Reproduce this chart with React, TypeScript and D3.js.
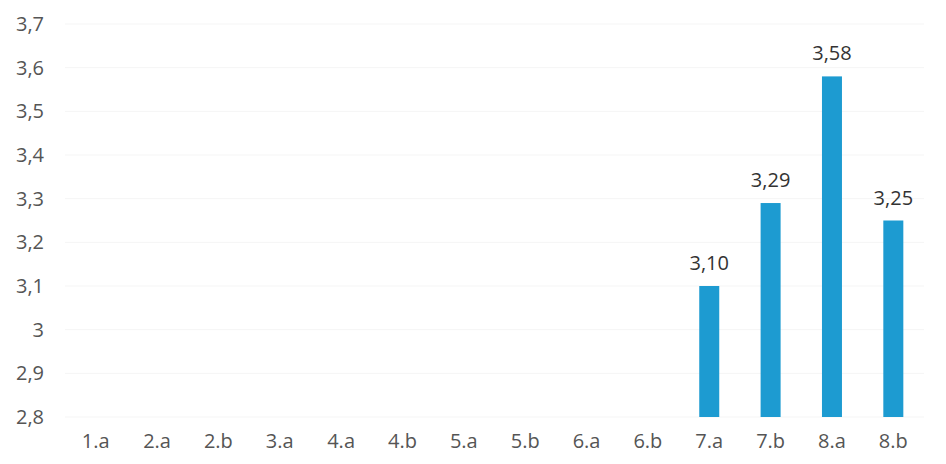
import React from "react";
import * as d3 from "d3";

const categories = ["1.a", "2.a", "2.b", "3.a", "4.a", "4.b", "5.a", "5.b", "6.a", "6.b", "7.a", "7.b", "8.a", "8.b"];
const values: (number | null)[] = [null, null, null, null, null, null, null, null, null, null, 3.10, 3.29, 3.58, 3.25];
const yTicks = [2.8, 2.9, 3.0, 3.1, 3.2, 3.3, 3.4, 3.5, 3.6, 3.7];

const W = 946;
const H = 464;
const FONT = "'Open Sans', 'Noto Sans', sans-serif";

export default function App() {
  const x = d3.scaleBand<string>().domain(categories).range([65, 924]).paddingInner(0.674).paddingOuter(0.337);
  const y = d3.scaleLinear().domain([2.8, 3.7]).range([417, 24]);
  const fmtTick = (v: number) => (Math.round(v * 10) / 10).toString().replace(".", ",");
  const fmtVal = (v: number) => v.toFixed(2).replace(".", ",");

  return (
    <svg width={W} height={H} style={{ position: "absolute", left: 0, top: 0, background: "#fff" }}>
      <rect x={0} y={0} width={W} height={H} fill="#fff" />
      {yTicks.map((t) => (
        <g key={t}>
          <line x1={65} x2={924} y1={y(t)} y2={y(t)} stroke="#f5f5f5" strokeWidth={1} />
          <text x={44} y={y(t)} dy="0.35em" textAnchor="end" fontFamily={FONT} fontSize={20} fill="#555">
            {fmtTick(t)}
          </text>
        </g>
      ))}
      {categories.map((c, i) => {
        const v = values[i];
        const cx = (x(c) ?? 0) + x.bandwidth() / 2;
        return (
          <g key={c}>
            {v !== null && (
              <>
                <rect x={x(c)} y={y(v)} width={x.bandwidth()} height={y(2.8) - y(v)} fill="#1d9bd1" />
                <text x={cx} y={y(v) - 23} dy="0.35em" textAnchor="middle" fontFamily={FONT} fontSize={20} fill="#333">
                  {fmtVal(v)}
                </text>
              </>
            )}
            <text x={cx} y={441} dy="0.35em" textAnchor="middle" fontFamily={FONT} fontSize={20} fill="#555">
              {c}
            </text>
          </g>
        );
      })}
    </svg>
  );
}
